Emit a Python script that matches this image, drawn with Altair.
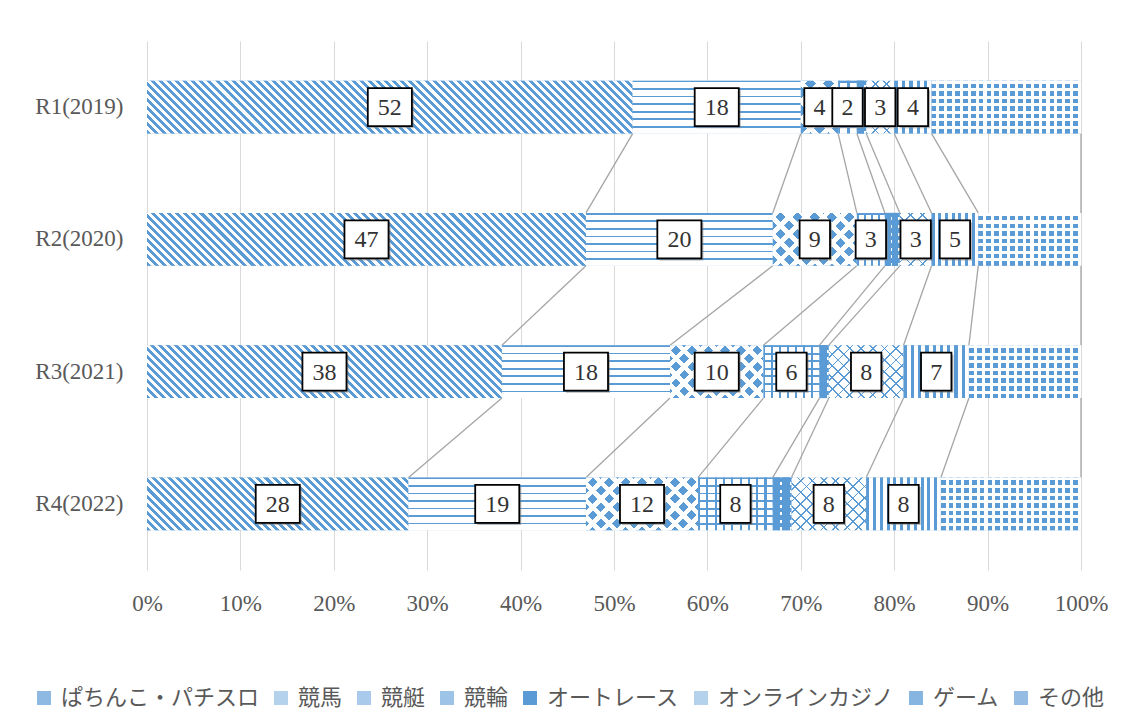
import math
import altair as alt
import pandas as pd

# ---------------- data ----------------
years = ["R1(2019)", "R2(2020)", "R3(2021)", "R4(2022)"]
series = ["ぱちんこ・パチスロ", "競馬", "競艇", "競輪", "オートレース", "オンラインカジノ", "ゲーム", "その他"]
pachinko = [52, 47, 38, 28]
keiba = [18, 20, 18, 19]
kyotei = [4, 9, 10, 12]
keirin = [2, 3, 6, 8]
autorace = [1, 1.6, 1, 2]
casino = [3, 3.4, 8, 8]
game = [4, 5, 7, 8]
other = [16, 11, 12, 15]
labeled = [True, True, True, True, False, True, True, False]
tick_values = [0, 0.1, 0.2, 0.3, 0.4, 0.5, 0.6, 0.7, 0.8, 0.9, 1.0]

values = [pachinko, keiba, kyotei, keirin, autorace, casino, game, other]

rows = []
for yi, yr in enumerate(years):
    tot = sum(v[yi] for v in values)
    cum = 0.0
    for si, s in enumerate(series):
        v = values[si][yi]
        x0 = cum / tot
        cum += v
        x1 = cum / tot
        rows.append(dict(year=yr, yi=yi, series=s, si=si, value=v,
                         x0=x0, x1=x1, mid=(x0 + x1) / 2,
                         lab=int(round(v)), show=labeled[si]))
df = pd.DataFrame(rows)
df_lab = df[df["show"]].copy()

line_rows = []
for yi in range(len(years) - 1):
    for si in range(len(series)):
        a = df[(df.yi == yi) & (df.si == si)].x1.iloc[0]
        b = df[(df.yi == yi + 1) & (df.si == si)].x1.iloc[0]
        line_rows.append(dict(year=years[yi], year2=years[yi + 1], xa=a, xb=b))
df_lines = pd.DataFrame(line_rows)

# ---------------- style ----------------
PLOT_W = 934
PLOT_H = 529
BAND = PLOT_H / 4 * 0.4
BLUE = "#5B9BD5"
WHITE = "#FFFFFF"
CLEAR = "rgba(255,255,255,0)"
SERIF = "Liberation Serif"
flat_colors = ["#8DB9E3", "#B5D2EC", "#A9CAEA", "#9DC3E6", "#5B9BD5", "#B5D2EC", "#86B5E1", "#95BDE4"]


def stripes(kind, W, H, period, duty, c1, c2):
    W = max(W, 1.0)
    if kind == "h":
        coords = dict(x1=0, y1=0, x2=0, y2=1)
        length = H
    elif kind == "v":
        coords = dict(x1=0, y1=0, x2=1, y2=0)
        length = W
    else:
        r = H / W
        a = (1 + r) / (1 + r * r)
        if kind == "d":
            coords = dict(x1=0, y1=1, x2=round(a, 5), y2=round(1 - a * r, 5))
        else:
            coords = dict(x1=0, y1=0, x2=round(a, 5), y2=round(a * r, 5))
        length = (W + H) / math.sqrt(2)
    n = max(1, int(round(length / period)))
    stops = []
    for i in range(n):
        a0 = i / n
        am = (i + duty) / n
        a1 = (i + 1) / n
        stops += [
            {"offset": round(a0, 5), "color": c1},
            {"offset": round(am, 5), "color": c1},
            {"offset": round(am, 5), "color": c2},
            {"offset": round(a1, 5), "color": c2},
        ]
    g = {"gradient": "linear"}
    g.update(coords)
    g["stops"] = stops
    return g


patterns = {
    0: [("d", 5.66, 0.5, BLUE, WHITE)],
    1: [("h", 8, 0.22, BLUE, WHITE)],
    2: [("d", 12, 0.6, BLUE, WHITE), ("u", 12, 0.4, WHITE, CLEAR)],
    3: [("h", 8, 0.25, BLUE, WHITE), ("v", 8, 0.25, BLUE, CLEAR)],
    4: [("v", 8, 0.8, BLUE, WHITE), ("h", 8, 0.6, BLUE, CLEAR)],
    5: [("d", 8, 0.15, BLUE, WHITE), ("u", 8, 0.15, BLUE, CLEAR)],
    6: [("v", 7, 0.45, BLUE, WHITE)],
    7: [("v", 8, 0.6, BLUE, WHITE), ("h", 8, 0.4, WHITE, CLEAR)],
}


def build_fill(layer_idx):
    chain = None
    for _, r in df.iterrows():
        pats = patterns[int(r.si)]
        if layer_idx >= len(pats):
            continue
        kind, per, duty, c1, c2 = pats[layer_idx]
        W = (r.x1 - r.x0) * PLOT_W
        g = stripes(kind, W, BAND, per, duty, c1, c2)
        pred = (alt.datum.si == int(r.si)) & (alt.datum.yi == int(r.yi))
        if chain is None:
            chain = alt.when(pred).then(alt.value(g))
        else:
            chain = chain.when(pred).then(alt.value(g))
    return chain.otherwise(alt.value(WHITE if layer_idx == 0 else CLEAR))


yscale = alt.Scale(domain=years, paddingInner=0.6, paddingOuter=0.3)
xscale = alt.Scale(domain=[0, 1], nice=False)

Y = alt.Y("year:N", scale=yscale, title=None,
          axis=alt.Axis(domain=False, ticks=False, labelPadding=24,
                        labelFont=SERIF, labelFontSize=23, labelColor="#595959"))

rules = alt.Chart(df_lines).mark_rule(
    color="#A5A5A5", strokeWidth=1.3, yOffset=BAND / 2, y2Offset=-BAND / 2
).encode(
    x=alt.X("xa:Q", scale=xscale, title=None),
    x2="xb:Q",
    y=alt.Y("year:N", scale=yscale, title=None),
    y2="year2:N",
)

flat = alt.Chart(df).mark_bar().encode(
    x=alt.X("x0:Q", scale=xscale, title=None,
            axis=alt.Axis(values=tick_values, format=".0%", grid=True, gridColor="#D9D9D9",
                          domain=False, ticks=False, labelPadding=22, labelFlush=False,
                          labelFont=SERIF, labelFontSize=23, labelColor="#595959")),
    x2="x1:Q",
    y=Y,
    color=alt.Color("series:N", scale=alt.Scale(domain=series, range=flat_colors),
                    legend=alt.Legend(title=None, orient="none", legendX=-114, legendY=646,
                                      direction="horizontal", columns=8,
                                      symbolType="square", symbolSize=196, symbolStrokeWidth=0,
                                      labelFont="Noto Sans CJK JP", labelFontSize=22,
                                      labelColor="#595959", labelOffset=6, columnPadding=10,
                                      labelLimit=0)),
)

base_pat = alt.Chart(df).mark_bar().encode(
    x=alt.X("x0:Q", scale=xscale, title=None),
    x2="x1:Q",
    y=alt.Y("year:N", scale=yscale, title=None),
    fill=build_fill(0),
)

over_pat = alt.Chart(df).mark_bar().encode(
    x=alt.X("x0:Q", scale=xscale, title=None),
    x2="x1:Q",
    y=alt.Y("year:N", scale=yscale, title=None),
    fill=build_fill(1),
)

path_two = "M-1.16,-1 L1.16,-1 L1.16,1 L-1.16,1 Z"
path_one = "M-0.8,-1 L0.8,-1 L0.8,1 L-0.8,1 Z"
box_shape = alt.when(alt.datum.lab >= 10).then(alt.value(path_two)).otherwise(alt.value(path_one))

shadow = alt.Chart(df_lab).mark_point(
    filled=True, fill="#808080", opacity=0.55, size=1444, strokeWidth=0, xOffset=2, yOffset=2
).encode(
    x=alt.X("mid:Q", scale=xscale, title=None),
    y=alt.Y("year:N", scale=yscale, title=None),
    shape=box_shape,
)

boxes = alt.Chart(df_lab).mark_point(
    filled=True, fill="white", stroke="black", strokeWidth=1.8, size=1444, opacity=1
).encode(
    x=alt.X("mid:Q", scale=xscale, title=None),
    y=alt.Y("year:N", scale=yscale, title=None),
    shape=box_shape,
)

texts = alt.Chart(df_lab).mark_text(
    font=SERIF, fontSize=24, color="#333333", baseline="middle", dy=1
).encode(
    x=alt.X("mid:Q", scale=xscale, title=None),
    y=alt.Y("year:N", scale=yscale, title=None),
    text=alt.Text("lab:Q", format="d"),
)

chart = alt.layer(rules, flat, base_pat, over_pat, shadow, boxes, texts).properties(
    width=PLOT_W, height=PLOT_H,
    autosize=alt.AutoSizeParams(type="none"),
    padding={"left": 139, "top": 33, "right": 44, "bottom": 145},
).configure_view(stroke=None)

chart.save("out.html", embed_options={"renderer": "svg", "actions": False})
